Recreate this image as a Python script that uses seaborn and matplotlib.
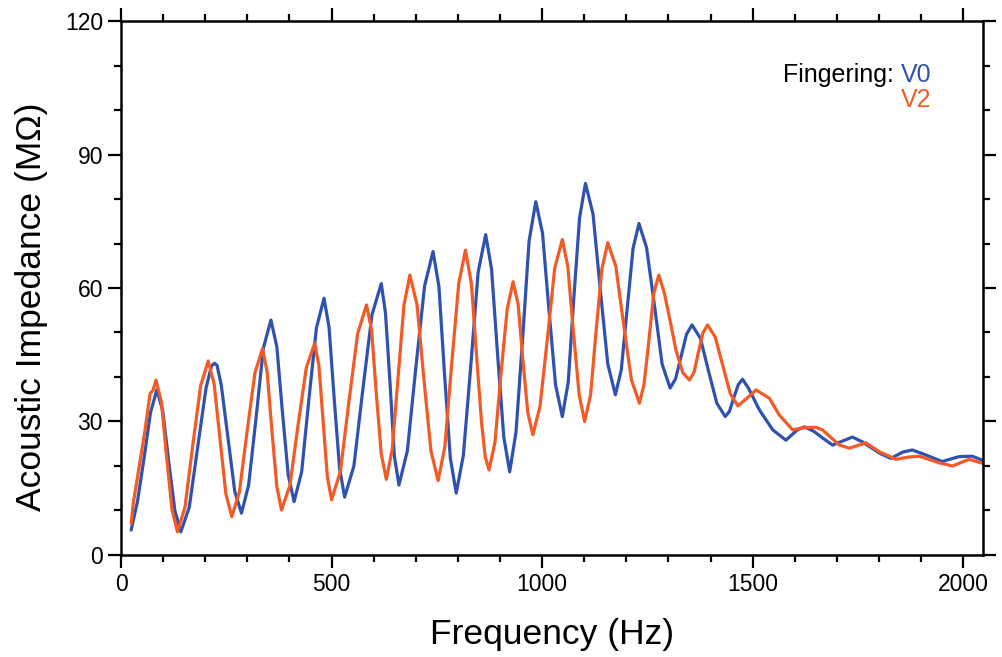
import numpy as np
import pandas as pd
import matplotlib
matplotlib.use('Agg')
import matplotlib.pyplot as plt
from matplotlib.ticker import MultipleLocator
import seaborn as sns

# values (frequency in Hz, impedance in MOhm)
freq_v0 = [24, 39, 55, 70, 85, 99, 113, 128, 142, 162, 182, 202, 215, 222, 228, 238, 254, 270,
           286, 303, 321, 338, 356, 370, 383, 397, 411, 429, 446, 464, 482, 494, 506, 519,
           531, 553, 574, 596, 618, 628, 639, 649, 660, 680, 700, 721, 741, 755, 768, 782,
           796, 813, 831, 848, 866, 880, 894, 909, 923, 938, 954, 969, 985, 1001, 1016, 1032,
           1048, 1062, 1075, 1089, 1103, 1121, 1138, 1156, 1174, 1188, 1202, 1216, 1230, 1248,
           1267, 1285, 1304, 1317, 1330, 1343, 1356, 1376, 1395, 1415, 1435, 1445, 1455, 1466,
           1476, 1490, 1516, 1548, 1579, 1606, 1623, 1645, 1666, 1690, 1737, 1761, 1801, 1828,
           1856, 1879, 1911, 1950, 1990, 2021, 2046]
imp_v0 = [5.6, 12, 22, 32, 37.1, 32.4, 21.2, 9.9, 5.2, 10.7, 24.2, 37.6, 42.5, 43.1, 42.6, 38.2,
          26.3, 14.3, 9.4, 15.7, 31.1, 46.5, 52.8, 46.8, 32.4, 18.0, 12.0, 18.7, 34.9, 51.0,
          57.7, 51.2, 35.4, 19.5, 13.0, 20.0, 37.0, 54.0, 61.0, 54.4, 38.4, 22.3, 15.7, 23.4,
          42.0, 60.5, 68.2, 60.3, 41.0, 21.8, 13.9, 22.4, 43.0, 63.5, 72.0, 64.2, 45.4, 26.5,
          18.7, 27.6, 49.0, 70.5, 79.4, 72.3, 55.3, 38.2, 31.1, 38.8, 57.3, 75.8, 83.5, 76.6,
          59.8, 42.9, 36.0, 41.6, 55.3, 68.9, 74.5, 69.1, 56.0, 42.9, 37.5, 39.6, 44.6, 49.6,
          51.7, 48.7, 41.4, 34.1, 31.1, 32.3, 35.3, 38.3, 39.5, 37.5, 32.6, 28.1, 25.8, 28.1,
          28.8, 27.8, 26.3, 24.7, 26.5, 25.4, 22.9, 21.7, 23.1, 23.6, 22.5, 21.0, 22.1, 22.2,
          21.3]

freq_v2 = [24, 29, 40, 57, 69, 76, 83, 96, 108, 121, 134, 152, 170, 189, 207, 221, 235, 249,
           263, 281, 299, 318, 336, 347, 358, 370, 381, 401, 420, 440, 460, 470, 480, 490, 500,
           521, 541, 562, 583, 595, 606, 618, 630, 644, 658, 672, 686, 703, 719, 736, 753, 769,
           785, 802, 818, 832, 845, 856, 865, 874, 888, 902, 917, 931, 943, 954, 966, 978, 995,
           1013, 1030, 1048, 1061, 1074, 1088, 1101, 1115, 1128, 1142, 1156, 1175, 1193, 1212,
           1231, 1242, 1254, 1265, 1277, 1290, 1302, 1318, 1334, 1350, 1361, 1371, 1382, 1393,
           1411, 1429, 1447, 1465, 1490, 1508, 1540, 1563, 1595, 1620, 1650, 1666, 1706, 1730,
           1769, 1801, 1840, 1870, 1896, 1943, 1975, 2014, 2046]
imp_v2 = [7.1, 11.6, 18, 28.1, 36.3, 37, 39.3, 34.3, 22.2, 10.2, 5.2, 10.8, 24.4, 38.0, 43.6,
          38.5, 26.1, 13.7, 8.6, 14.1, 27.5, 40.9, 46.4, 41.1, 28.3, 15.4, 10.1, 15.6, 28.9,
          42.1, 47.6, 42.5, 30.0, 17.5, 12.4, 18.8, 34.3, 49.8, 56.2, 50.5, 36.6, 22.7, 17.0,
          23.7, 40.0, 56.2, 62.9, 56.2, 39.8, 23.4, 16.7, 24.3, 42.6, 61.0, 68.5, 61.0, 44.0,
          30.0, 22.0, 19.1, 25.3, 40.3, 55.2, 61.4, 56.4, 44.2, 32.0, 27.0, 33.4, 49.0, 64.5,
          70.9, 64.9, 50.5, 36.0, 30.0, 35.9, 50.1, 64.3, 70.2, 64.9, 52.2, 39.4, 34.1, 38.3,
          48.5, 58.7, 62.9, 59.0, 53.6, 46.0, 41.0, 39.3, 41.1, 45.5, 49.9, 51.7, 49.0, 42.6,
          36.2, 33.5, 35.5, 37.1, 35.2, 31.5, 28.1, 28.6, 28.7, 28.1, 24.7, 24.0, 25.2, 23.2,
          21.5, 22.0, 22.2, 20.7, 20.0, 21.5, 20.6]

fingerings = ['V0', 'V2']
colors = {'V0': '#2f52b0', 'V2': '#f25a26'}

df = pd.concat([
    pd.DataFrame({'freq': freq_v0, 'imp': imp_v0, 'fingering': 'V0'}),
    pd.DataFrame({'freq': freq_v2, 'imp': imp_v2, 'fingering': 'V2'}),
])

sns.set_style('ticks')
plt.rcParams['font.family'] = ['Liberation Sans', 'DejaVu Sans']
plt.rcParams['text.color'] = 'black'
plt.rcParams['axes.labelcolor'] = 'black'

fig = plt.figure(figsize=(10.02, 6.57), dpi=100)
ax = fig.add_axes([0.1208, 0.1553, 0.8602, 0.8127])

sns.lineplot(data=df, x='freq', y='imp', hue='fingering', palette=colors,
             sort=False, estimator=None, linewidth=2.3, legend=False, ax=ax)

ax.set_xlim(0, 2047)
ax.set_ylim(0, 120)
ax.xaxis.set_major_locator(MultipleLocator(500))
ax.xaxis.set_minor_locator(MultipleLocator(100))
ax.yaxis.set_major_locator(MultipleLocator(30))
ax.yaxis.set_minor_locator(MultipleLocator(10))
ax.tick_params(which='both', direction='out', top=True, right=True, width=1.6,
               labelsize=16.5, colors='black')
ax.tick_params(which='major', length=9.5)
ax.tick_params(which='minor', length=5)
for s in ax.spines.values():
    s.set_linewidth(1.8)
    s.set_color('black')
    s.set_visible(True)

ax.set_xlabel('Frequency (Hz)', fontsize=25.5, labelpad=16, color='black')
ax.set_ylabel('Acoustic Impedance (M\u03a9)', fontsize=25.5, color='black')
ax.yaxis.set_label_coords(-0.085, 0.464)

# legend written as text, like the original
ax.text(0.905, 0.899, 'Fingering: ', transform=ax.transAxes, ha='right', va='center',
        fontsize=18, color='black')
ax.text(0.905, 0.899, 'V0', transform=ax.transAxes, ha='left', va='center',
        fontsize=18, color=colors['V0'])
ax.text(0.905, 0.852, 'V2', transform=ax.transAxes, ha='left', va='center',
        fontsize=18, color=colors['V2'])

fig.savefig('out.png', dpi=100)
